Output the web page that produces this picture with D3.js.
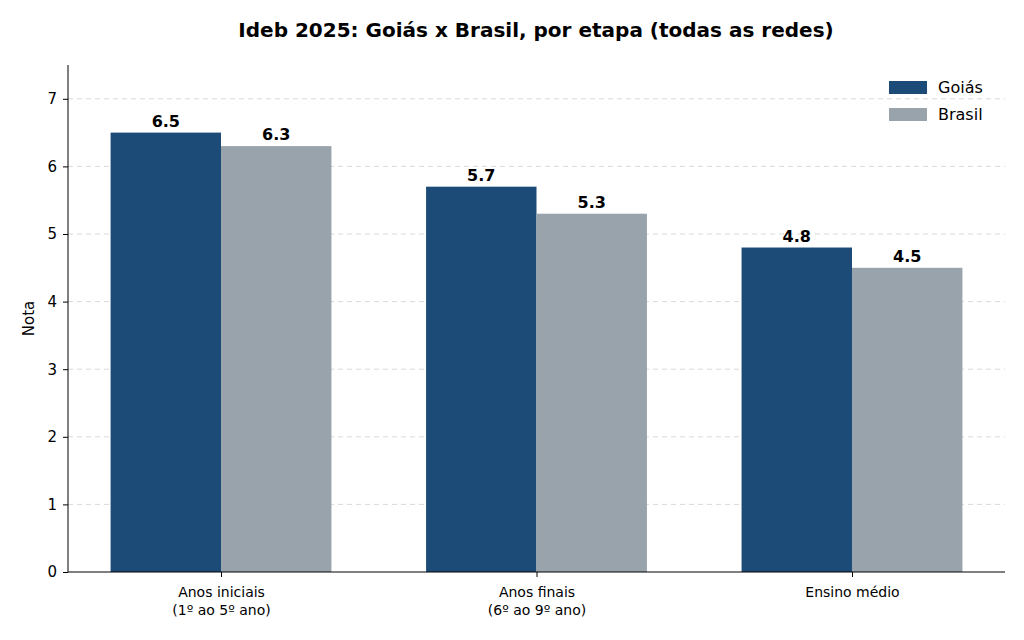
<!DOCTYPE html>
<html><head><meta charset="utf-8">
<script src="https://cdn.jsdelivr.net/npm/d3@7"></script>
<style>body{margin:0;background:#fff}text{font-family:"DejaVu Sans",sans-serif}</style>
</head><body><svg id="chart" width="1024" height="640"></svg>
<script>
const categories = [['Anos iniciais', '(1º ao 5º ano)'], ['Anos finais', '(6º ao 9º ano)'], ['Ensino médio']];
const goias = [6.5, 5.7, 4.8];
const brasil = [6.3, 5.3, 4.5];
const series = [
  {name: 'Goiás', values: goias, color: '#1c4b78'},
  {name: 'Brasil', values: brasil, color: '#99a3ab'}
];
const yTicks = [0, 1, 2, 3, 4, 5, 6, 7];

const margin = {left: 68, right: 1005, top: 65, bottom: 572};
const svg = d3.select('#chart');
const x = d3.scaleLinear([-0.485, 2.485], [margin.left, margin.right]);
const y = d3.scaleLinear([0, 7.5], [margin.bottom, margin.top]);
const barW = 0.35;

// grid
svg.append('g').selectAll('line').data(yTicks.slice(1)).enter().append('line')
  .attr('x1', margin.left).attr('x2', margin.right)
  .attr('y1', d => y(d)).attr('y2', d => y(d))
  .attr('stroke', '#d9d9d9').attr('stroke-dasharray', '5,4');

// bars
series.forEach((s, si) => {
  const off = si === 0 ? -barW : 0;
  const g = svg.append('g');
  g.selectAll('rect').data(s.values).enter().append('rect')
    .attr('x', (d, i) => x(i + off)).attr('width', x(barW) - x(0))
    .attr('y', d => y(d)).attr('height', d => y(0) - y(d))
    .attr('fill', s.color);
  g.selectAll('text').data(s.values).enter().append('text')
    .attr('x', (d, i) => x(i + off + barW / 2)).attr('y', d => y(d) - 6)
    .attr('text-anchor', 'middle').attr('font-size', 16).attr('font-weight', 'bold')
    .text(d => d.toFixed(1));
});

// axes
const yAxis = svg.append('g').attr('transform', `translate(${margin.left},0)`)
  .call(d3.axisLeft(y).tickValues(yTicks).tickSize(5).tickPadding(6));
yAxis.select('.domain').attr('d', `M0,${margin.bottom}V${margin.top}`);
yAxis.selectAll('text').attr('font-size', 15).attr('font-family', 'DejaVu Sans');

const xAxis = svg.append('g').attr('transform', `translate(0,${margin.bottom})`)
  .call(d3.axisBottom(x).tickValues([0, 1, 2]).tickSize(5).tickFormat(''));
xAxis.select('.domain').attr('d', `M${margin.left},0H${margin.right}`);
xAxis.selectAll('.tick').each(function(d) {
  const t = d3.select(this).append('text').attr('fill', '#000').attr('text-anchor', 'middle')
    .attr('font-size', 14);
  categories[d].forEach((line, k) => t.append('tspan').attr('x', 0).attr('y', 25 + k * 18).text(line));
});

svg.append('text').attr('transform', `translate(34,${y(3.75)}) rotate(-90)`)
  .attr('text-anchor', 'middle').attr('font-size', 15).text('Nota');

svg.append('text').attr('x', 536).attr('y', 37).attr('text-anchor', 'middle')
  .attr('font-size', 20).attr('font-weight', 'bold')
  .text('Ideb 2025: Goiás x Brasil, por etapa (todas as redes)');

// legend
const leg = svg.append('g').selectAll('g').data(series).enter().append('g')
  .attr('transform', (d, i) => `translate(889,${81 + i * 27})`);
leg.append('rect').attr('width', 38).attr('height', 13).attr('fill', d => d.color);
leg.append('text').attr('x', 49).attr('y', 12).attr('font-size', 16).text(d => d.name);
</script></body></html>
